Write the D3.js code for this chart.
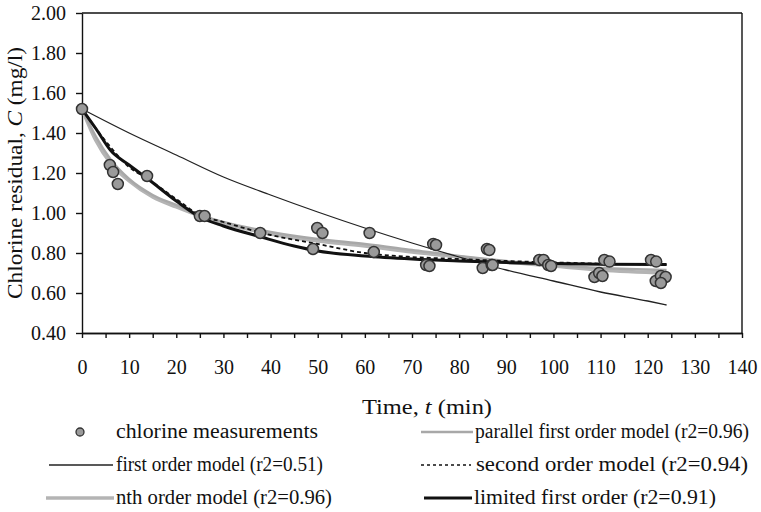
<!DOCTYPE html>
<html>
<head>
<meta charset="utf-8">
<script src="https://cdn.jsdelivr.net/npm/d3@7"></script>
<style>
  body { margin: 0; background: #fff; }
  text { font-family: "Liberation Serif", "Times New Roman", serif; fill: #111; }
  .axis path, .axis line { stroke: #111; stroke-width: 1.4; }
  .axis text { font-size: 20px; }
</style>
</head>
<body>
<div class="chart"></div>
<script>
var svgWidth = 761;
var svgHeight = 512;

var margin = { top: 13, right: 19, bottom: 179, left: 82 };
var width = svgWidth - margin.left - margin.right;
var height = svgHeight - margin.top - margin.bottom;

// measured chlorine residual
var measT = [0, 5.9, 6.6, 7.6, 13.8, 25, 26, 37.8, 49, 49.9, 51, 61, 61.9, 73, 73.7, 74.5, 75.1,
  85, 85.9, 86.4, 86.9, 87.1, 97, 97.9, 98.9, 99.5, 108.7, 109.7, 110.4, 110.8, 111.9,
  120.7, 121.8, 121.7, 122.8, 123.8, 122.8];
var measC = [1.52, 1.24, 1.205, 1.145, 1.185, 0.985, 0.985, 0.90, 0.82, 0.925, 0.90, 0.90, 0.805, 0.74, 0.735, 0.845, 0.84,
  0.725, 0.82, 0.815, 0.74, 0.74, 0.765, 0.765, 0.74, 0.735, 0.68, 0.70, 0.685, 0.765, 0.757,
  0.765, 0.757, 0.66, 0.685, 0.68, 0.65];

// model curves
var firstT = [0, 10, 20, 30, 40, 50, 60, 70, 80, 90, 100, 110, 120, 124];
var firstC = [1.52, 1.40, 1.29, 1.18, 1.09, 1.005, 0.925, 0.85, 0.78, 0.715, 0.66, 0.605, 0.56, 0.54];

var parallelT = [0, 3, 6, 10, 15, 20, 25, 30, 40, 50, 60, 70, 80, 90, 100, 110, 124];
var parallelC = [1.52, 1.38, 1.27, 1.17, 1.09, 1.04, 0.99, 0.955, 0.905, 0.87, 0.845, 0.815, 0.785, 0.76, 0.74, 0.725, 0.715];

var nthT = [0, 3, 6, 10, 15, 20, 25, 30, 40, 50, 60, 70, 80, 90, 100, 110, 124];
var nthC = [1.52, 1.36, 1.25, 1.16, 1.08, 1.03, 0.985, 0.95, 0.895, 0.86, 0.835, 0.805, 0.78, 0.755, 0.735, 0.715, 0.70];

var secondT = [0, 5, 10, 14, 20, 25, 30, 40, 50, 60, 70, 80, 90, 100, 110, 124];
var secondC = [1.52, 1.36, 1.23, 1.17, 1.07, 0.99, 0.955, 0.89, 0.845, 0.80, 0.78, 0.77, 0.76, 0.753, 0.747, 0.742];

var limitedT = [0, 3, 6, 10, 14, 20, 25, 30, 38, 45, 50, 60, 70, 80, 90, 100, 110, 124];
var limitedC = [1.52, 1.42, 1.315, 1.24, 1.17, 1.06, 0.98, 0.935, 0.88, 0.835, 0.81, 0.785, 0.77, 0.76, 0.752, 0.747, 0.744, 0.742];

var xTicks = [0, 10, 20, 30, 40, 50, 60, 70, 80, 90, 100, 110, 120, 130, 140];
var xMinorTicks = [5, 15, 25, 35, 45, 55, 65, 75, 85, 95, 105, 115, 125, 135];
var yTicks = [0.4, 0.6, 0.8, 1.0, 1.2, 1.4, 1.6, 1.8, 2.0];

var svg = d3.select(".chart")
  .append("svg")
  .attr("width", svgWidth)
  .attr("height", svgHeight);

var chartGroup = svg.append("g")
  .attr("transform", `translate(${margin.left}, ${margin.top})`);

var xLinearScale = d3.scaleLinear().domain([0, 140]).range([0, width]);
var yLinearScale = d3.scaleLinear().domain([0.4, 2.0]).range([height, 0]);

// frame top + right
chartGroup.append("line")
  .attr("x1", 0).attr("x2", width).attr("y1", 0).attr("y2", 0)
  .attr("stroke", "#111").attr("stroke-width", 1.4);
chartGroup.append("line")
  .attr("x1", width).attr("x2", width).attr("y1", 0).attr("y2", height)
  .attr("stroke", "#111").attr("stroke-width", 1.4);

chartGroup.append("g")
  .classed("axis", true)
  .attr("transform", `translate(0, ${height})`)
  .call(d3.axisBottom(xLinearScale).tickValues(xMinorTicks).tickSize(5).tickSizeOuter(0).tickFormat(""));

chartGroup.append("g")
  .classed("axis", true)
  .attr("transform", `translate(0, ${height})`)
  .call(d3.axisBottom(xLinearScale).tickValues(xTicks).tickSize(5).tickSizeOuter(0).tickPadding(22));

chartGroup.append("g")
  .classed("axis", true)
  .call(d3.axisLeft(yLinearScale).tickValues(yTicks).tickSize(6).tickSizeOuter(0).tickPadding(10).tickFormat(d3.format(".2f")));

function series(ts, cs) {
  return ts.map((t, i) => [t, cs[i]]);
}

var line = d3.line()
  .x(d => xLinearScale(d[0]))
  .y(d => yLinearScale(d[1]))
  .curve(d3.curveMonotoneX);

var styles = {
  first: { color: "#222", width: 1.3, dash: null },
  parallel: { color: "#a8a8a8", width: 2.5, dash: null },
  nth: { color: "#b4b4b4", width: 3.5, dash: null },
  second: { color: "#111", width: 1.8, dash: "4,3" },
  limited: { color: "#111", width: 3, dash: null }
};

var curves = [
  ["nth", series(nthT, nthC)],
  ["parallel", series(parallelT, parallelC)],
  ["first", series(firstT, firstC)],
  ["limited", series(limitedT, limitedC)],
  ["second", series(secondT, secondC)]
];

curves.forEach(function(c) {
  var s = styles[c[0]];
  chartGroup.append("path")
    .datum(c[1])
    .attr("d", line)
    .attr("fill", "none")
    .attr("stroke", s.color)
    .attr("stroke-width", s.width)
    .attr("stroke-dasharray", s.dash);
});

chartGroup.selectAll("circle.meas")
  .data(series(measT, measC))
  .enter()
  .append("circle")
  .classed("meas", true)
  .attr("cx", d => xLinearScale(d[0]))
  .attr("cy", d => yLinearScale(d[1]))
  .attr("r", 5.5)
  .attr("fill", "#9a9a9a")
  .attr("stroke", "#333")
  .attr("stroke-width", 1.5);

// axis titles
var xTitle = svg.append("text")
  .attr("x", 427)
  .attr("y", 414)
  .attr("text-anchor", "middle")
  .attr("font-size", "20px")
  .attr("textLength", 130)
  .attr("lengthAdjust", "spacingAndGlyphs");
xTitle.append("tspan").text("Time, ");
xTitle.append("tspan").attr("font-style", "italic").text("t");
xTitle.append("tspan").text(" (min)");

var yTitle = svg.append("text")
  .attr("transform", "translate(22, 173) rotate(-90)")
  .attr("text-anchor", "middle")
  .attr("font-size", "20px")
  .attr("textLength", 252)
  .attr("lengthAdjust", "spacingAndGlyphs");
yTitle.append("tspan").text("Chlorine residual, ");
yTitle.append("tspan").attr("font-style", "italic").text("C");
yTitle.append("tspan").text(" (mg/l)");

// legend
var legendItems = [
  { key: "meas", label: "chlorine measurements", x1: 80, x2: 80, tx: 116, y: 432, len: 202 },
  { key: "first", label: "first order model (r2=0.51)", x1: 49, x2: 113, tx: 116, y: 465, len: 207 },
  { key: "nth", label: "nth order model (r2=0.96)", x1: 46, x2: 114, tx: 116, y: 498, len: 216 },
  { key: "parallel", label: "parallel first order model (r2=0.96)", x1: 421, x2: 473, tx: 475, y: 432, len: 274 },
  { key: "second", label: "second order model (r2=0.94)", x1: 421, x2: 471, tx: 476, y: 465, len: 272 },
  { key: "limited", label: "limited first order (r2=0.91)", x1: 424, x2: 472, tx: 474, y: 498, len: 242 }
];

var legendGroup = svg.append("g");

legendItems.forEach(function(d) {
  if (d.key === "meas") {
    legendGroup.append("circle")
      .attr("cx", d.x1).attr("cy", d.y).attr("r", 4)
      .attr("fill", "#9a9a9a").attr("stroke", "#333").attr("stroke-width", 1.3);
  } else {
    var s = styles[d.key];
    legendGroup.append("line")
      .attr("x1", d.x1).attr("x2", d.x2).attr("y1", d.y).attr("y2", d.y)
      .attr("stroke", s.color)
      .attr("stroke-width", d.key === "second" ? 1.5 : s.width)
      .attr("stroke-dasharray", d.key === "second" ? "3,3" : null);
  }
  legendGroup.append("text")
    .attr("x", d.tx)
    .attr("y", d.y + 6)
    .attr("font-size", "20px")
    .attr("textLength", d.len)
    .attr("lengthAdjust", "spacingAndGlyphs")
    .text(d.label);
});
</script>
</body>
</html>
